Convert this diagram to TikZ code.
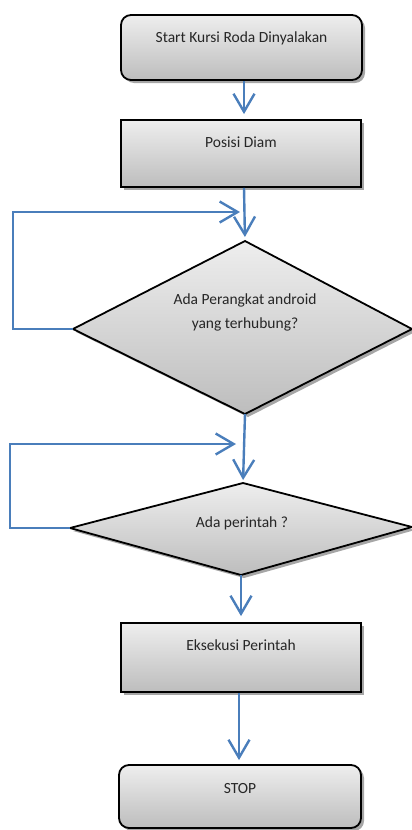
\documentclass[tikz,border=0pt]{standalone}
\usepackage{fontspec}
\setmainfont{Carlito}
\usetikzlibrary{arrows.meta,shadows}
\definecolor{lnblue}{HTML}{4A7EBB}
\definecolor{gtop}{HTML}{EEEEEE}
\definecolor{gbot}{HTML}{BDBDBD}
\definecolor{shad}{HTML}{A6A6A6}
\begin{document}
\begin{tikzpicture}[x=1pt,y=-1pt,
  shapestyle/.style={draw=black, line width=1.8pt, top color=gtop, bottom color=gbot,
    drop shadow={shadow xshift=3pt, shadow yshift=-3pt, fill=shad, opacity=1}},
  boxstyle/.style={shapestyle, rectangle, inner sep=0pt},
  roundbox/.style={boxstyle, rounded corners=10pt},
  txt/.style={font=\fontsize{15.5}{24}\selectfont, text=black!85, align=center, inner sep=0pt},
  flow/.style={draw=lnblue, line width=2.4pt, -{Straight Barb[length=18pt,width=21pt,line width=2.4pt]}}
]
\useasboundingbox (0,0) rectangle (412,830);
% boxes
\node[roundbox, minimum width=241pt, minimum height=65pt] (start) at (241.5,47.5) {};
\node[txt] (starttxt) at (241.5,38) {Start Kursi Roda Dinyalakan};
\node[boxstyle, minimum width=240pt, minimum height=67pt] (posisi) at (241,153.5) {};
\node[txt] (posisitxt) at (241,142) {Posisi Diam};
% diamond 1
\coordinate (d1t) at (245,241);
\coordinate (d1r) at (412,329);
\coordinate (d1b) at (245,414);
\coordinate (d1l) at (73,329);
\path[shapestyle] (d1t) -- (d1r) -- (d1b) -- (d1l) -- cycle;
\node[txt] (d1txt) at (245,312) {Ada Perangkat android\\yang terhubung?};
% diamond 2
\coordinate (d2t) at (243,483);
\coordinate (d2r) at (412,527);
\coordinate (d2b) at (241,575);
\coordinate (d2l) at (70,528);
\path[shapestyle] (d2t) -- (d2r) -- (d2b) -- (d2l) -- cycle;
\node[txt] (d2txt) at (242,523) {Ada perintah ?};
% boxes lower
\node[boxstyle, minimum width=240pt, minimum height=69pt] (eks) at (241,657.5) {};
\node[txt] (ekstxt) at (241,645) {Eksekusi Perintah};
\node[roundbox, minimum width=242pt, minimum height=63pt] (stop) at (240,796.5) {};
\node[txt] (stoptxt) at (240,789) {STOP};
% connectors
\draw[flow, shorten >=5pt] ([xshift=2.5pt]start.south) -- ([xshift=2.5pt]start.south |- posisi.north);
\draw[flow, shorten >=4pt] ([xshift=3pt]posisi.south) -- (d1t);
\draw[flow, shorten >=3pt] (d1b) -- (d2t);
\draw[flow, shorten >=6pt] (d2b) -- (d2b |- eks.north);
\draw[flow, shorten >=4pt] ([xshift=-2pt]eks.south) -- ([xshift=-2pt]eks.south |- stop.north);
% loops
\coordinate (l1a) at (13,329);
\coordinate (l1b) at (13,212);
\coordinate (l1c) at (240,212);
\draw[flow] (d1l) -- (l1a) -- (l1b) -- (l1c);
\coordinate (l2a) at (10,528);
\coordinate (l2b) at (10,444);
\coordinate (l2c) at (236,444);
\draw[flow] (d2l) -- (l2a) -- (l2b) -- (l2c);
\end{tikzpicture}
\end{document}
